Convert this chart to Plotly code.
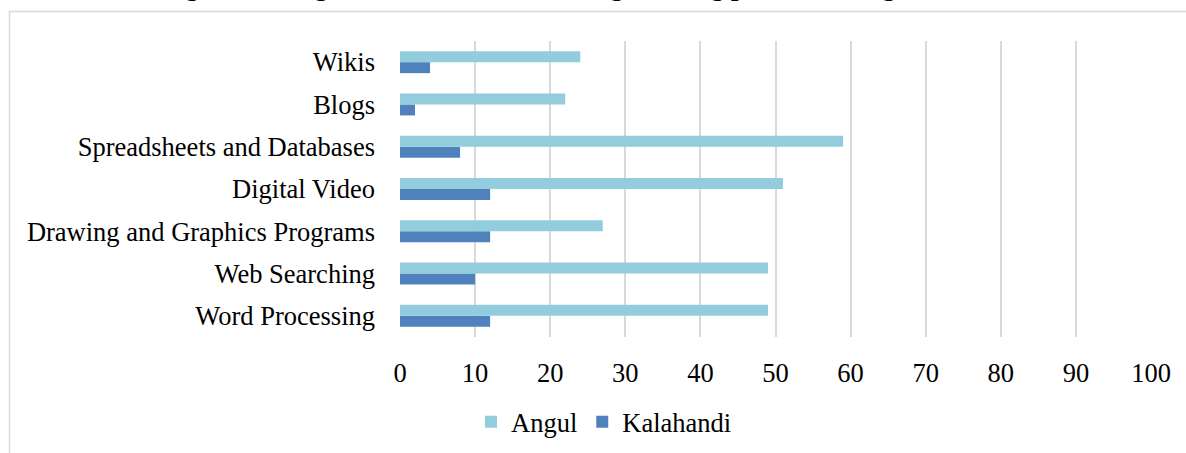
import plotly.graph_objects as go

categories = ["Word Processing", "Web Searching", "Drawing and Graphics Programs",
              "Digital Video", "Spreadsheets and Databases", "Blogs", "Wikis"]
angul = [49, 49, 27, 51, 59, 22, 24]
kalahandi = [12, 10, 12, 12, 8, 2, 4]
x_ticks = [0, 10, 20, 30, 40, 50, 60, 70, 80, 90, 100]
title_text = "Figure 6: Usage of ICT tools for teaching learning process in Angul and Kalahandi districts"

W, H = 1186, 453
L, R, T, B = 400, 35, 41, 116
pw, ph = W - L - R, H - T - B

def px_x(px):
    return (px - L) / pw

def px_y(py):
    return (H - B - py) / ph

FONT = "Liberation Serif, Times New Roman, serif"

fig = go.Figure()
fig.add_trace(go.Bar(y=categories, x=kalahandi, name="Kalahandi", orientation="h",
                     marker=dict(color="#4F81BD", line=dict(width=0)), legendrank=2))
fig.add_trace(go.Bar(y=categories, x=angul, name="Angul", orientation="h",
                     marker=dict(color="#93CDDD", line=dict(width=0)), legendrank=1))

fig.update_layout(
    width=W, height=H,
    margin=dict(l=L, r=R, t=T, b=B, autoexpand=False),
    paper_bgcolor="white", plot_bgcolor="white",
    barmode="group", bargap=0.48, bargroupgap=0,
    font=dict(family=FONT, size=26.5, color="black"),
    showlegend=True,
    legend=dict(orientation="h", x=px_x(604), xanchor="center", y=px_y(422), yanchor="middle",
                font=dict(size=26.5), itemwidth=30, traceorder="normal"),
    xaxis=dict(range=[0, 100], tickvals=x_ticks, showgrid=True, gridcolor="#D9D9D9", gridwidth=1.5,
               zeroline=False, showline=False, ticks="", ticklabelstandoff=17, fixedrange=True,
               automargin=False),
    yaxis=dict(showgrid=False, zeroline=False, showline=False, ticks="", ticklabelstandoff=24,
               fixedrange=True, automargin=False),
    shapes=[dict(type="rect", xref="paper", yref="paper",
                 x0=px_x(9.5), x1=px_x(1220), y0=px_y(490), y1=px_y(11.5),
                 line=dict(color="#D9D9D9", width=1.5), fillcolor="rgba(0,0,0,0)", layer="below")],
    annotations=[dict(text="<b>" + title_text + "</b>", xref="paper", yref="paper",
                      x=px_x(160), xanchor="left", y=px_y(3), yanchor="bottom",
                      showarrow=False, font=dict(size=26.5, color="black"))],
)

fig.write_html("out.html")
